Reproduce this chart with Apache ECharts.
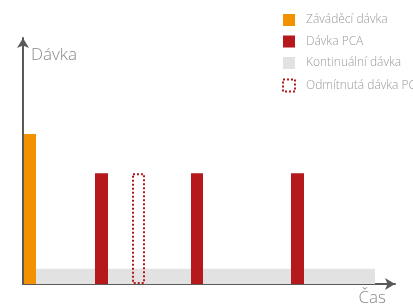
<!DOCTYPE html>
<html>
<head>
<meta charset="utf-8">
<script src="https://cdn.jsdelivr.net/npm/echarts@6/dist/echarts.min.js"></script>
<style>
  html, body { margin: 0; padding: 0; background: #fff; }
  #chart { width: 413px; height: 307px; }
</style>
</head>
<body>
<div id="chart"></div>
<script>
// [start, end, height] - time units on x, dose on y
const rampUp = [[1, 13, 61]];
const pcaDoses = [[72, 85, 45], [168, 180, 45], [268, 281, 45]];
const rejected = [[109, 122, 45]];
const continuous = [[13, 352, 6.2]];

const names = ['Záváděcí dávka', 'Dávka PCA', 'Kontinuální dávka', 'Odmítnutá dávka PCA'];

function rectItem(dashed) {
    return function (params, api) {
        let p0 = api.coord([api.value(0), api.value(2)]);
        let p1 = api.coord([api.value(1), 0]);
        let shape = { x: p0[0], y: p0[1], width: p1[0] - p0[0], height: p1[1] - p0[1] };
        if (dashed) {
            shape = { x: shape.x + 1, y: shape.y + 1, width: shape.width - 2, height: shape.height - 2 };
            return {
                type: 'rect',
                shape: shape,
                style: { fill: 'none', stroke: '#b5191b', lineWidth: 2, lineDash: [2, 2] }
            };
        }
        return { type: 'rect', shape: shape, style: { fill: api.visual('color') } };
    };
}

let myChart = echarts.init(document.getElementById('chart'));
let option = {
    animation: false,
    textStyle: { fontFamily: 'Open Sans' },
    grid: { left: 23, right: 18, top: 38, bottom: 23 },
    legend: {
        orient: 'vertical',
        left: 282,
        top: 14,
        padding: 0,
        itemWidth: 12,
        itemHeight: 12,
        itemGap: 9.5,
        textStyle: { color: '#9a9a9a', fontSize: 12, fontWeight: 300, fontFamily: 'Open Sans', padding: [0, 0, 0, 6] },
        data: [
            { name: names[0], icon: 'rect' },
            { name: names[1], icon: 'rect' },
            { name: names[2], icon: 'rect' },
            {
                name: names[3],
                icon: 'rect',
                itemStyle: { color: '#fff', borderColor: '#b5191b', borderWidth: 2, borderType: [2, 2] }
            }
        ]
    },
    xAxis: {
        type: 'value',
        min: 0,
        max: 372,
        name: 'Čas',
        nameLocation: 'end',
        nameGap: -9,
        nameTextStyle: { color: '#8a8a8a', fontSize: 17, fontWeight: 300, align: 'right', verticalAlign: 'top', padding: [6, 0, 0, 0] },
        axisLine: { show: true, symbol: ['none', 'arrow'], symbolSize: [9, 10], lineStyle: { color: '#5a5a5a', width: 2 } },
        axisTick: { show: false },
        axisLabel: { show: false },
        splitLine: { show: false }
    },
    yAxis: {
        type: 'value',
        min: 0,
        max: 100,
        name: 'Dávka',
        nameLocation: 'end',
        nameGap: -17,
        nameTextStyle: { color: '#8a8a8a', fontSize: 17, fontWeight: 300, align: 'left', verticalAlign: 'middle', padding: [0, 0, 0, 8] },
        axisLine: { show: true, symbol: ['none', 'arrow'], symbolSize: [9, 10], lineStyle: { color: '#5a5a5a', width: 2 } },
        axisTick: { show: false },
        axisLabel: { show: false },
        splitLine: { show: false }
    },
    series: [
        { name: names[2], type: 'custom', renderItem: rectItem(false), itemStyle: { color: '#e2e2e2' }, data: continuous, z: 1 },
        { name: names[0], type: 'custom', renderItem: rectItem(false), itemStyle: { color: '#f39200' }, data: rampUp, z: 2 },
        { name: names[1], type: 'custom', renderItem: rectItem(false), itemStyle: { color: '#b5191b' }, data: pcaDoses, z: 2 },
        { name: names[3], type: 'custom', renderItem: rectItem(true), itemStyle: { color: '#b5191b' }, data: rejected, z: 2 }
    ]
};
myChart.setOption(option);
</script>
</body>
</html>
